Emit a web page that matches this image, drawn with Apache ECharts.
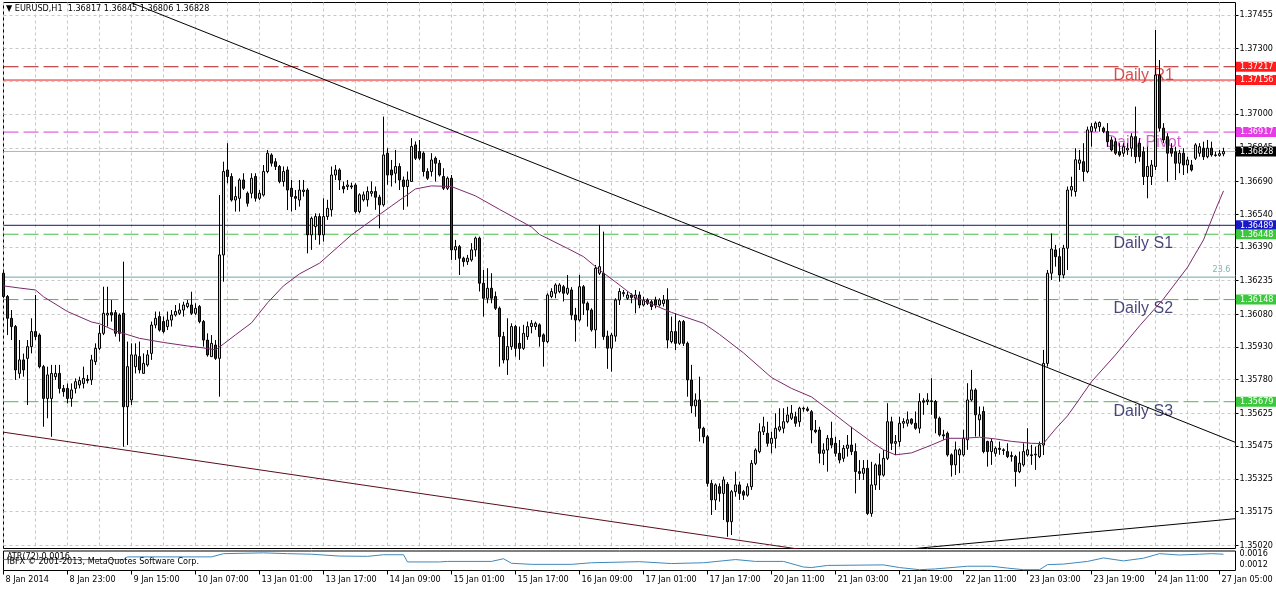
<!DOCTYPE html>
<html>
<head>
<meta charset="utf-8">
<title>EURUSD,H1</title>
<script src="https://cdn.jsdelivr.net/npm/echarts@6/dist/echarts.min.js"></script>
<style>
  html, body { margin: 0; padding: 0; background: #ffffff; }
  #chart { width: 1276px; height: 589px; }
</style>
</head>
<body>
<div id="chart"></div>
<script>
// ---- Quote header ----
const symbolName = 'EURUSD,H1';
const lastQuote = [1.36817, 1.36845, 1.36806, 1.36828];

// ---- Hourly candles: [open, close, low, high] ----
const candles = [
[1.36269,1.36162,1.36154,1.36276],[1.36162,1.36062,1.35985,1.36169],[1.36062,1.36024,1.35962,1.36100],[1.36024,1.35825,1.35779,1.36031],
[1.35809,1.35871,1.35786,1.35962],[1.35871,1.35825,1.35794,1.35900],[1.35878,1.35932,1.35664,1.35962],[1.35932,1.36001,1.35901,1.36062],
[1.36001,1.35978,1.35962,1.36169],[1.35985,1.35840,1.35832,1.35993],[1.35840,1.35694,1.35564,1.35848],[1.35694,1.35802,1.35603,1.35840],
[1.35694,1.35809,1.35518,1.35848],[1.35794,1.35809,1.35779,1.35848],[1.35809,1.35740,1.35717,1.35848],[1.35740,1.35725,1.35702,1.35756],
[1.35740,1.35694,1.35671,1.35763],[1.35694,1.35733,1.35656,1.35763],[1.35740,1.35771,1.35717,1.35786],[1.35756,1.35776,1.35740,1.35794],
[1.35763,1.35786,1.35740,1.35840],[1.35782,1.35776,1.35763,1.35802],[1.35779,1.35871,1.35756,1.35894],[1.35863,1.35924,1.35848,1.35947],
[1.35924,1.35993,1.35916,1.36031],[1.35993,1.36085,1.35985,1.36207],[1.36077,1.36085,1.36024,1.36207],[1.36088,1.36077,1.36047,1.36146],
[1.36088,1.35993,1.35978,1.36100],[1.36077,1.35993,1.35955,1.36085],[1.36085,1.35656,1.35472,1.36322],[1.35656,1.35840,1.35480,1.35955],
[1.35687,1.35894,1.35664,1.35947],[1.35840,1.35894,1.35809,1.35947],[1.35886,1.35825,1.35809,1.35955],[1.35809,1.35855,1.35809,1.35901],
[1.35848,1.35894,1.35840,1.35916],[1.35901,1.36031,1.35871,1.36047],[1.36031,1.36062,1.36016,1.36093],[1.36070,1.36008,1.36001,1.36093],
[1.36047,1.36001,1.35993,1.36070],[1.36024,1.36054,1.36008,1.36093],[1.36054,1.36077,1.36024,1.36100],[1.36077,1.36093,1.36070,1.36123],
[1.36085,1.36100,1.36077,1.36131],[1.36100,1.36123,1.36070,1.36138],[1.36116,1.36131,1.36108,1.36146],[1.36123,1.36085,1.36077,1.36184],
[1.36085,1.36108,1.36077,1.36131],[1.36116,1.36047,1.36039,1.36123],[1.36047,1.35962,1.35932,1.36054],[1.35962,1.35894,1.35886,1.35993],
[1.35886,1.35947,1.35886,1.35985],[1.35939,1.35878,1.35871,1.35962],[1.35878,1.36353,1.35702,1.36628],[1.36353,1.36736,1.36230,1.36781],
[1.36743,1.36713,1.36682,1.36866],[1.36713,1.36605,1.36598,1.36728],[1.36605,1.36621,1.36552,1.36667],[1.36613,1.36697,1.36552,1.36705],
[1.36697,1.36659,1.36651,1.36728],[1.36636,1.36590,1.36575,1.36644],[1.36636,1.36705,1.36613,1.36728],[1.36713,1.36613,1.36598,1.36728],
[1.36613,1.36636,1.36605,1.36651],[1.36628,1.36736,1.36621,1.36766],[1.36736,1.36820,1.36728,1.36835],[1.36812,1.36774,1.36759,1.36820],
[1.36781,1.36759,1.36743,1.36797],[1.36759,1.36690,1.36682,1.36766],[1.36690,1.36736,1.36667,1.36759],[1.36743,1.36651,1.36559,1.36759],
[1.36659,1.36621,1.36552,1.36697],[1.36621,1.36613,1.36559,1.36651],[1.36605,1.36651,1.36575,1.36697],[1.36644,1.36651,1.36621,1.36697],
[1.36651,1.36445,1.36360,1.36659],[1.36445,1.36521,1.36376,1.36529],[1.36483,1.36529,1.36422,1.36544],[1.36529,1.36445,1.36400,1.36544],
[1.36445,1.36529,1.36414,1.36613],[1.36529,1.36567,1.36514,1.36606],[1.36560,1.36720,1.36529,1.36759],[1.36720,1.36743,1.36697,1.36766],
[1.36743,1.36697,1.36651,1.36751],[1.36667,1.36656,1.36636,1.36690],[1.36667,1.36674,1.36651,1.36697],[1.36670,1.36665,1.36655,1.36685],
[1.36674,1.36552,1.36544,1.36682],[1.36552,1.36629,1.36544,1.36636],[1.36606,1.36629,1.36598,1.36644],[1.36606,1.36644,1.36575,1.36667],
[1.36636,1.36644,1.36621,1.36690],[1.36644,1.36618,1.36560,1.36667],[1.36618,1.36583,1.36475,1.36629],[1.36583,1.36812,1.36575,1.36988],
[1.36820,1.36720,1.36675,1.36843],[1.36743,1.36720,1.36667,1.36789],[1.36728,1.36759,1.36682,1.36835],[1.36759,1.36697,1.36651,1.36774],
[1.36697,1.36667,1.36560,1.36713],[1.36667,1.36697,1.36575,1.36736],[1.36690,1.36851,1.36690,1.36889],[1.36858,1.36797,1.36789,1.36874],
[1.36828,1.36797,1.36789,1.36881],[1.36820,1.36736,1.36713,1.36828],[1.36736,1.36705,1.36697,1.36751],[1.36736,1.36789,1.36713,1.36820],
[1.36797,1.36774,1.36690,1.36805],[1.36774,1.36720,1.36713,1.36789],[1.36713,1.36659,1.36651,1.36751],[1.36659,1.36705,1.36651,1.36713],
[1.36705,1.36376,1.36330,1.36720],[1.36376,1.36391,1.36330,1.36422],[1.36391,1.36338,1.36261,1.36399],[1.36338,1.36322,1.36299,1.36345],
[1.36322,1.36338,1.36307,1.36353],[1.36330,1.36376,1.36322,1.36407],[1.36376,1.36430,1.36345,1.36437],[1.36430,1.36223,1.36185,1.36437],
[1.36223,1.36154,1.36070,1.36284],[1.36154,1.36200,1.36131,1.36292],[1.36200,1.36154,1.36131,1.36269],[1.36162,1.36108,1.36100,1.36185],
[1.36108,1.35978,1.35840,1.36116],[1.35978,1.35871,1.35855,1.36000],[1.35871,1.35932,1.35802,1.36062],[1.35932,1.36024,1.35917,1.36039],
[1.36024,1.35924,1.35886,1.36032],[1.35947,1.35924,1.35871,1.36024],[1.35924,1.35993,1.35917,1.36032],[1.35978,1.36024,1.35963,1.36047],
[1.36024,1.36039,1.35993,1.36054],[1.36024,1.36039,1.36009,1.36047],[1.36032,1.35978,1.35932,1.36039],[1.35986,1.35955,1.35840,1.35993],
[1.35955,1.36169,1.35947,1.36177],[1.36162,1.36185,1.36154,1.36200],[1.36177,1.36215,1.36154,1.36223],[1.36185,1.36215,1.36177,1.36223],
[1.36207,1.36177,1.36139,1.36215],[1.36177,1.36200,1.36169,1.36261],[1.36192,1.36077,1.36055,1.36205],[1.36077,1.36054,1.35955,1.36110],
[1.36054,1.36207,1.36047,1.36261],[1.36207,1.36131,1.36077,1.36215],[1.36131,1.36100,1.36024,1.36139],[1.36100,1.36009,1.36001,1.36108],
[1.36009,1.36292,1.35924,1.36307],[1.36269,1.36299,1.36261,1.36491],[1.36269,1.35978,1.35963,1.36460],[1.35980,1.35925,1.35830,1.36005],
[1.35925,1.35985,1.35817,1.35995],[1.35980,1.36146,1.35955,1.36154],[1.36146,1.36185,1.36123,1.36200],[1.36175,1.36180,1.36161,1.36192],
[1.36154,1.36169,1.36146,1.36185],[1.36169,1.36158,1.36131,1.36177],[1.36154,1.36169,1.36085,1.36192],[1.36169,1.36123,1.36108,1.36185],
[1.36123,1.36146,1.36116,1.36161],[1.36146,1.36131,1.36123,1.36154],[1.36138,1.36116,1.36100,1.36146],[1.36146,1.36123,1.36108,1.36161],
[1.36123,1.36146,1.36116,1.36154],[1.36130,1.36146,1.36116,1.36169],[1.36146,1.35962,1.35924,1.36200],[1.35955,1.36001,1.35947,1.36070],
[1.36001,1.35947,1.35916,1.36085],[1.35947,1.36047,1.35940,1.36054],[1.36047,1.35947,1.35935,1.36054],[1.35947,1.35779,1.35702,1.35955],
[1.35779,1.35660,1.35626,1.35848],[1.35660,1.35687,1.35610,1.35717],[1.35687,1.35557,1.35496,1.35794],[1.35557,1.35518,1.35488,1.35564],
[1.35518,1.35304,1.35289,1.35526],[1.35304,1.35228,1.35159,1.35320],[1.35228,1.35297,1.35182,1.35304],[1.35289,1.35258,1.35220,1.35304],
[1.35258,1.35320,1.35136,1.35335],[1.35300,1.35128,1.35059,1.35310],[1.35128,1.35266,1.35067,1.35274],[1.35266,1.35297,1.35243,1.35358],
[1.35297,1.35258,1.35228,1.35312],[1.35266,1.35250,1.35228,1.35274],[1.35250,1.35289,1.35243,1.35304],[1.35289,1.35396,1.35274,1.35411],
[1.35396,1.35457,1.35388,1.35465],[1.35450,1.35541,1.35442,1.35580],[1.35541,1.35564,1.35526,1.35610],[1.35534,1.35488,1.35473,1.35587],
[1.35488,1.35511,1.35442,1.35541],[1.35511,1.35557,1.35465,1.35626],[1.35549,1.35564,1.35541,1.35649],[1.35557,1.35587,1.35534,1.35649],
[1.35587,1.35618,1.35580,1.35656],[1.35603,1.35626,1.35595,1.35664],[1.35610,1.35580,1.35564,1.35633],[1.35587,1.35649,1.35564,1.35656],
[1.35649,1.35646,1.35633,1.35656],[1.35646,1.35639,1.35633,1.35656],[1.35633,1.35549,1.35488,1.35641],[1.35549,1.35541,1.35534,1.35595],
[1.35549,1.35442,1.35396,1.35564],[1.35442,1.35457,1.35388,1.35488],[1.35457,1.35511,1.35358,1.35526],[1.35511,1.35480,1.35465,1.35587],
[1.35488,1.35442,1.35427,1.35518],[1.35442,1.35411,1.35396,1.35503],[1.35419,1.35465,1.35403,1.35480],[1.35465,1.35480,1.35427,1.35526],
[1.35480,1.35450,1.35434,1.35564],[1.35450,1.35358,1.35258,1.35488],[1.35358,1.35350,1.35320,1.35411],[1.35350,1.35373,1.35320,1.35411],
[1.35373,1.35166,1.35159,1.35411],[1.35166,1.35297,1.35151,1.35403],[1.35297,1.35389,1.35274,1.35396],[1.35389,1.35342,1.35274,1.35442],
[1.35342,1.35419,1.35335,1.35457],[1.35419,1.35587,1.35411,1.35672],[1.35587,1.35488,1.35457,1.35610],[1.35488,1.35496,1.35434,1.35526],
[1.35496,1.35580,1.35473,1.35610],[1.35580,1.35588,1.35557,1.35603],[1.35580,1.35596,1.35565,1.35634],[1.35599,1.35580,1.35573,1.35603],
[1.35580,1.35557,1.35550,1.35634],[1.35557,1.35680,1.35534,1.35718],[1.35683,1.35677,1.35619,1.35695],[1.35680,1.35687,1.35664,1.35718],
[1.35683,1.35680,1.35619,1.35787],[1.35680,1.35603,1.35534,1.35687],[1.35603,1.35527,1.35519,1.35611],[1.35527,1.35522,1.35504,1.35550],
[1.35534,1.35435,1.35427,1.35542],[1.35435,1.35389,1.35335,1.35442],[1.35389,1.35458,1.35343,1.35496],[1.35435,1.35458,1.35351,1.35465],
[1.35435,1.35511,1.35427,1.35550],[1.35504,1.35687,1.35458,1.35764],[1.35687,1.35733,1.35680,1.35825],[1.35733,1.35619,1.35519,1.35741],
[1.35596,1.35619,1.35519,1.35657],[1.35634,1.35450,1.35442,1.35657],[1.35496,1.35450,1.35381,1.35500],[1.35450,1.35496,1.35389,1.35511],
[1.35442,1.35465,1.35427,1.35473],[1.35465,1.35460,1.35435,1.35496],[1.35458,1.35455,1.35435,1.35465],[1.35450,1.35427,1.35420,1.35488],
[1.35427,1.35432,1.35404,1.35450],[1.35427,1.35358,1.35289,1.35435],[1.35358,1.35397,1.35351,1.35450],[1.35389,1.35450,1.35381,1.35488],
[1.35435,1.35458,1.35427,1.35557],[1.35435,1.35432,1.35389,1.35481],[1.35435,1.35438,1.35366,1.35473],[1.35427,1.35481,1.35420,1.35496],
[1.35480,1.35855,1.35434,1.35917],[1.35855,1.36269,1.35840,1.36284],[1.36269,1.36380,1.36238,1.36452],[1.36376,1.36345,1.36299,1.36399],
[1.36345,1.36261,1.36230,1.36384],[1.36261,1.36384,1.36246,1.36399],[1.36384,1.36651,1.36284,1.36667],[1.36651,1.36667,1.36621,1.36712],
[1.36644,1.36790,1.36621,1.36843],[1.36774,1.36789,1.36743,1.36835],[1.36781,1.36736,1.36690,1.36866],[1.36736,1.36927,1.36728,1.36942],
[1.36920,1.36942,1.36850,1.36958],[1.36935,1.36958,1.36919,1.36966],[1.36942,1.36961,1.36919,1.36966],[1.36935,1.36920,1.36912,1.36942],
[1.36920,1.36873,1.36850,1.36958],[1.36881,1.36835,1.36828,1.36896],[1.36873,1.36820,1.36812,1.36889],[1.36827,1.36812,1.36804,1.36866],
[1.36820,1.36850,1.36804,1.36866],[1.36835,1.36843,1.36812,1.36866],[1.36843,1.36896,1.36804,1.36912],[1.36896,1.36804,1.36774,1.37034],
[1.36866,1.36804,1.36781,1.36889],[1.36827,1.36713,1.36674,1.36850],[1.36713,1.36759,1.36613,1.36850],[1.36713,1.36766,1.36674,1.36789],
[1.36759,1.37179,1.36743,1.37386],[1.37179,1.36935,1.36919,1.37248],[1.36935,1.36881,1.36866,1.36958],[1.36896,1.36820,1.36689,1.36912],
[1.36843,1.36820,1.36804,1.36866],[1.36827,1.36774,1.36697,1.36850],[1.36774,1.36820,1.36728,1.36835],[1.36820,1.36766,1.36720,1.36843],
[1.36766,1.36789,1.36728,1.36804],[1.36766,1.36743,1.36736,1.36789],[1.36797,1.36858,1.36789,1.36866],[1.36820,1.36850,1.36804,1.36866],
[1.36843,1.36804,1.36789,1.36873],[1.36804,1.36843,1.36797,1.36881],[1.36843,1.36812,1.36804,1.36873],[1.36812,1.36810,1.36804,1.36827],
[1.36810,1.36818,1.36804,1.36835],[1.36817,1.36828,1.36806,1.36845]
];

// ---- Moving average, sampled [bar, price] ----
const maPoints = [
[0,1.36211],[4,1.36201],[8,1.36192],[10,1.36161],[16,1.36093],[22,1.36045],[24,1.36037],[28,1.36004],[34,1.35970],
[40,1.35951],[46,1.35935],[50,1.35926],[53,1.35917],[55,1.35944],[58,1.35986],[62,1.36041],[66,1.36133],[70,1.36211],
[74,1.36266],[79,1.36315],[87,1.36445],[93,1.36525],[97,1.36578],[103,1.36656],[107,1.36670],[112,1.36667],[118,1.36624],
[124,1.36562],[132,1.36481],[134,1.36447],[141,1.36383],[145,1.36345],[149,1.36284],[153,1.36229],[158,1.36158],[162,1.36128],
[167,1.36089],[175,1.36039],[179,1.35988],[185,1.35903],[192,1.35790],[197,1.35740],[202,1.35701],[207,1.35632],[212,1.35561],
[217,1.35494],[220,1.35458],[223,1.35435],[227,1.35444],[232,1.35480],[236,1.35511],[240,1.35511],[244,1.35516],[248,1.35508],
[252,1.35497],[257,1.35488],[260,1.35487],[261,1.35510],[263,1.35554],[266,1.35614],[269,1.35692],[272,1.35771],[278,1.35894],
[284,1.36027],[290,1.36151],[296,1.36296],[300,1.36422],[303,1.36560],[305,1.36647]
];

// ---- ATR(72), sampled [bar, value] ----
const atrPoints = [
[0,0.00138],[30,0.00138],[31,0.00148],[52,0.00148],[55,0.00160],[65,0.00163],[71,0.00160],[77,0.00158],[84,0.00151],
[91,0.00150],[95,0.00156],[100,0.00156],[101,0.00129],[109,0.00129],[111,0.00131],[122,0.00131],[125,0.00141],[127,0.00124],
[132,0.00120],[142,0.00120],[147,0.00126],[159,0.00130],[167,0.00123],[175,0.00126],[183,0.00138],[188,0.00131],[195,0.00131],
[200,0.00110],[202,0.00108],[206,0.00116],[220,0.00118],[224,0.00108],[229,0.00100],[233,0.00103],[241,0.00113],[247,0.00113],
[251,0.00106],[255,0.00100],[259,0.00100],[261,0.00119],[265,0.00121],[271,0.00131],[275,0.00144],[280,0.00133],[285,0.00143],
[289,0.00160],[294,0.00155],[299,0.00158],[302,0.00160],[305,0.00158]
];
const atrTicks = [0.0012, 0.0016];

// ---- Price scale ticks and time labels ----
const yTicks = [1.35020,1.35175,1.35325,1.35475,1.35625,1.35780,1.35930,1.36080,1.36235,1.36390,1.36540,1.36690,1.36845,1.37000,1.37150,1.37300,1.37455];
const xTickLabels = ['8 Jan 2014','8 Jan 23:00','9 Jan 15:00','10 Jan 07:00','13 Jan 01:00','13 Jan 17:00','14 Jan 09:00',
  '15 Jan 01:00','15 Jan 17:00','16 Jan 09:00','17 Jan 01:00','17 Jan 17:00','20 Jan 11:00','21 Jan 03:00','21 Jan 19:00',
  '22 Jan 11:00','23 Jan 03:00','23 Jan 19:00','24 Jan 11:00','27 Jan 05:00'];

// ---- Horizontal levels ----
const levelPrices = [1.37217, 1.37156, 1.36917, 1.36828, 1.36489, 1.36448, 1.36251, 1.36148, 1.35679];
const fiboText = '23.6';

// ---- Trend lines: two anchors [bar, price] each ----
const trendLines = [
  [[31, 1.37518], [308, 1.35492]],
  [[0, 1.35539], [200, 1.34999]],
  [[225, 1.35000], [308, 1.35142]]
];

// ---- Daily pivot captions ----
const dailyTexts = ['Daily R1', 'Daily Pivot', 'Daily S1', 'Daily S2', 'Daily S3'];
const dailyAnchors = [[278, 1.37178], [276, 1.36867], [278, 1.36404], [278, 1.36105], [278, 1.35632]];

// ================= chart =================
const SLOTS = 309;
const LAST_SLOT = SLOTS - 1;
const categories = Array.from({ length: SLOTS }, (_, i) => String(i));
const FONT = "'DejaVu Sans Condensed', 'DejaVu Sans', sans-serif";
const GRID_COLOR = '#c8c8c8';
const PLOT_LEFT = 3.5;   // half-pixel so 1px wicks and outlines land on whole pixels
const PLOT_WIDTH = 1232;

// styles of the level lines, in the order of levelPrices
const SUPPORT_GREEN = '#44c044';
const levelStyles = [
  { color: '#b31b1b', type: [15, 5], tag: '#ff1c1c' },
  { color: '#e41c1c', type: 'solid', tag: '#ff1c1c' },
  { color: '#d83cd8', type: [15, 5], tag: '#e63ce6' },
  { color: '#b4b4b4', type: 'solid', tag: '#000000' },
  { color: '#16166e', type: 'solid', tag: '#1818c8' },
  { color: SUPPORT_GREEN, type: [15, 5], tag: '#3cc83c' },
  { color: '#6aa6a6', type: 'solid', tag: null },
  { color: SUPPORT_GREEN, type: [15, 5], tag: '#3cc83c' },
  { color: SUPPORT_GREEN, type: [15, 5], tag: '#3cc83c' }
];
const dailyColors = ['#cc2424', '#c63cc6', '#18185a', '#18185a', '#18185a'];
const trendColors = ['#000000', '#5a0d1c', '#000000'];

const series = [];

// level lines across the whole chart, tagged on the price scale (beneath the candles)
levelPrices.forEach((p, i) => {
  const st = levelStyles[i];
  const endLabel = st.tag ? {
    show: true, distance: 0.5, formatter: p.toFixed(5),
    color: '#ffffff', backgroundColor: st.tag,
    fontFamily: FONT, fontSize: 9, lineHeight: 9, padding: [1, 4, 0, 4]
  } : {
    show: true, distance: -5, align: 'right', verticalAlign: 'bottom', offset: [0, -3],
    formatter: fiboText, color: '#7fb2b2', fontFamily: FONT, fontSize: 9
  };
  series.push({
    type: 'line', xAxisIndex: 0, yAxisIndex: 0, z: 1,
    data: [[0, p], [LAST_SLOT, p]],
    symbol: 'none', silent: true,
    lineStyle: { color: st.color, type: st.type, width: 1 },
    endLabel: endLabel
  });
});

// daily captions (beneath the candles)
series.push({
  type: 'scatter', xAxisIndex: 0, yAxisIndex: 0, z: 1, symbolSize: 0, silent: true,
  data: dailyAnchors.map((a, i) => ({
    name: dailyTexts[i], value: a,
    label: { color: dailyColors[i] }
  })),
  label: {
    show: true, position: 'right', distance: -2, formatter: '{b}',
    fontFamily: "'Liberation Sans', Arial, sans-serif", fontSize: 16
  }
});

// candles
series.push({
  type: 'candlestick', xAxisIndex: 0, yAxisIndex: 0, z: 2,
  data: candles, barWidth: 2,
  itemStyle: {
    color: '#bfe0a8', color0: '#861818',
    borderColor: '#000000', borderColor0: '#000000', borderWidth: 1
  }
});

// moving average
series.push({
  type: 'line', xAxisIndex: 0, yAxisIndex: 0, z: 3, data: maPoints,
  symbol: 'none', silent: true,
  lineStyle: { color: '#7a2a6c', width: 1 }
});

// trend lines
trendLines.forEach((pts, i) => {
  series.push({
    type: 'line', xAxisIndex: 0, yAxisIndex: 0, z: 3, data: pts,
    symbol: 'none', silent: true,
    lineStyle: { color: trendColors[i], width: 1 }
  });
});

// ATR pane
series.push({
  type: 'line', xAxisIndex: 1, yAxisIndex: 1, z: 2, data: atrPoints,
  symbol: 'none', silent: true,
  lineStyle: { color: '#3f88b8', width: 1 }
});

const plainText = { fontFamily: FONT, fontSize: 9, fontWeight: 'normal', color: '#000000' };

const option = {
  animation: false,
  backgroundColor: '#ffffff',
  textStyle: { fontFamily: FONT },
  title: [
    {
      text: '\u25BC ' + symbolName + '  ' + lastQuote.map(v => v.toFixed(5)).join(' '),
      left: 6, top: 4, padding: 0, textStyle: plainText
    },
    {
      text: 'ATR(72) ' + atrPoints[atrPoints.length - 1][1].toFixed(4),
      left: 7, top: 552, padding: 0, textStyle: plainText
    },
    {
      text: 'IBFX \u00A9 2001-2013, MetaQuotes Software Corp.',
      left: 7, top: 557, padding: 0, textStyle: plainText
    }
  ],
  grid: [
    { left: PLOT_LEFT, top: 2.5, width: PLOT_WIDTH, height: 546, show: true, borderColor: '#000000', borderWidth: 1, backgroundColor: 'transparent' },
    { left: PLOT_LEFT, top: 551, width: PLOT_WIDTH, height: 19.5, show: true, borderColor: '#000000', borderWidth: 1, backgroundColor: 'transparent' }
  ],
  xAxis: [
    {
      type: 'category', gridIndex: 0, data: categories, boundaryGap: false,
      axisLine: { show: false }, axisTick: { show: false }, axisLabel: { show: false },
      splitLine: { show: true, interval: 7, lineStyle: { color: GRID_COLOR, type: [3, 3], width: 1 } }
    },
    {
      type: 'category', gridIndex: 1, data: categories, boundaryGap: false,
      axisLine: { show: false },
      axisTick: { show: true, interval: 15, length: 4, lineStyle: { color: '#000000' } },
      axisLabel: {
        show: true, interval: 15, align: 'left', margin: 5, padding: [0, 0, 0, 2],
        fontFamily: FONT, fontSize: 9, color: '#000000',
        formatter: (v, i) => (i % 16 === 0 && xTickLabels[i / 16]) ? xTickLabels[i / 16] : ''
      },
      splitLine: { show: false }
    }
  ],
  yAxis: [
    {
      type: 'value', gridIndex: 0, position: 'right', min: 1.35005, max: 1.37512, scale: true,
      axisLine: { show: false },
      axisTick: { show: true, length: 3, customValues: yTicks, lineStyle: { color: '#000000' } },
      axisLabel: {
        customValues: yTicks, margin: 4, fontFamily: FONT, fontSize: 9, color: '#000000',
        formatter: v => v.toFixed(5)
      },
      splitLine: { show: true, lineStyle: { color: GRID_COLOR, type: [3, 3], width: 1 } }
    },
    {
      type: 'value', gridIndex: 1, position: 'right', min: 0.00097, max: 0.0017, scale: true,
      axisLine: { show: false },
      axisTick: { show: false, customValues: atrTicks },
      axisLabel: {
        customValues: atrTicks, margin: 4, fontFamily: FONT, fontSize: 9, color: '#000000',
        formatter: v => v.toFixed(4)
      },
      splitLine: { show: false }
    }
  ],
  series: series
};

const chart = echarts.init(document.getElementById('chart'), null, { renderer: 'canvas' });
chart.setOption(option);
</script>
</body>
</html>
